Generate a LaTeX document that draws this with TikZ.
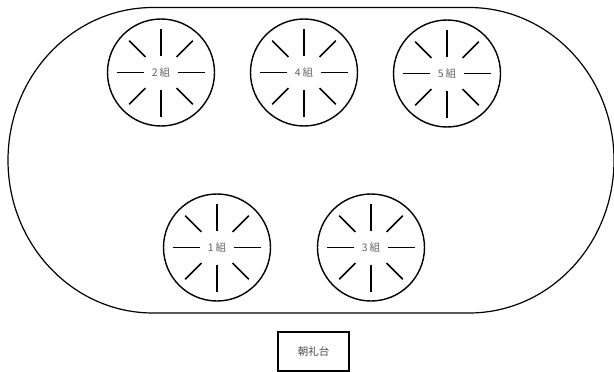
\documentclass[tikz,border=0pt]{standalone}
\usepackage{fontspec}
\newfontfamily\cjk{Noto Sans CJK JP}
\begin{document}
\begin{tikzpicture}[x=1pt,y=-1pt]
\useasboundingbox (0,0) rectangle (614,372);
\tikzset{
  grouptable/.style={circle,draw,line width=1.4pt,minimum size=107pt,inner sep=0pt,
    font=\cjk\fontsize{10.5}{12}\selectfont,text=black!60},
  spoke/.style={line width=1.5pt},
  track/.style={line width=1.2pt},
  stagebox/.style={draw,line width=1.2pt,minimum width=71pt,minimum height=39pt,inner sep=0pt,
    font=\cjk\fontsize{10.5}{12}\selectfont,text=black!70}
}
% track
\draw[track] (153,7.5) -- (469,7.5)
  arc[start angle=-90,end angle=90,x radius=145,y radius=152.75]
  -- (153,313)
  arc[start angle=90,end angle=270,x radius=145,y radius=152.75] -- cycle;
% tables
\node[grouptable] (t2) at (161,72.5) {2\,組};
\node[grouptable] (t4) at (304,72.5) {4\,組};
\node[grouptable] (t5) at (447,73.5) {5\,組};
\node[grouptable] (t1) at (217,247.5) {1\,組};
\node[grouptable] (t3) at (371,247.5) {3\,組};
\foreach \t in {t1,t2,t3,t4,t5}{
  \begin{scope}[shift={(\t.center)}]
    \foreach \a in {0,90,180,270}
      \draw[spoke] (\a:17) -- (\a:44);
    \foreach \a in {45,135,225,315}
      \draw[spoke] (\a:22) -- (\a:45);
  \end{scope}
}
% stage
\node[stagebox] (stage) at (313.5,351.5) {朝礼台};
\end{tikzpicture}
\end{document}
